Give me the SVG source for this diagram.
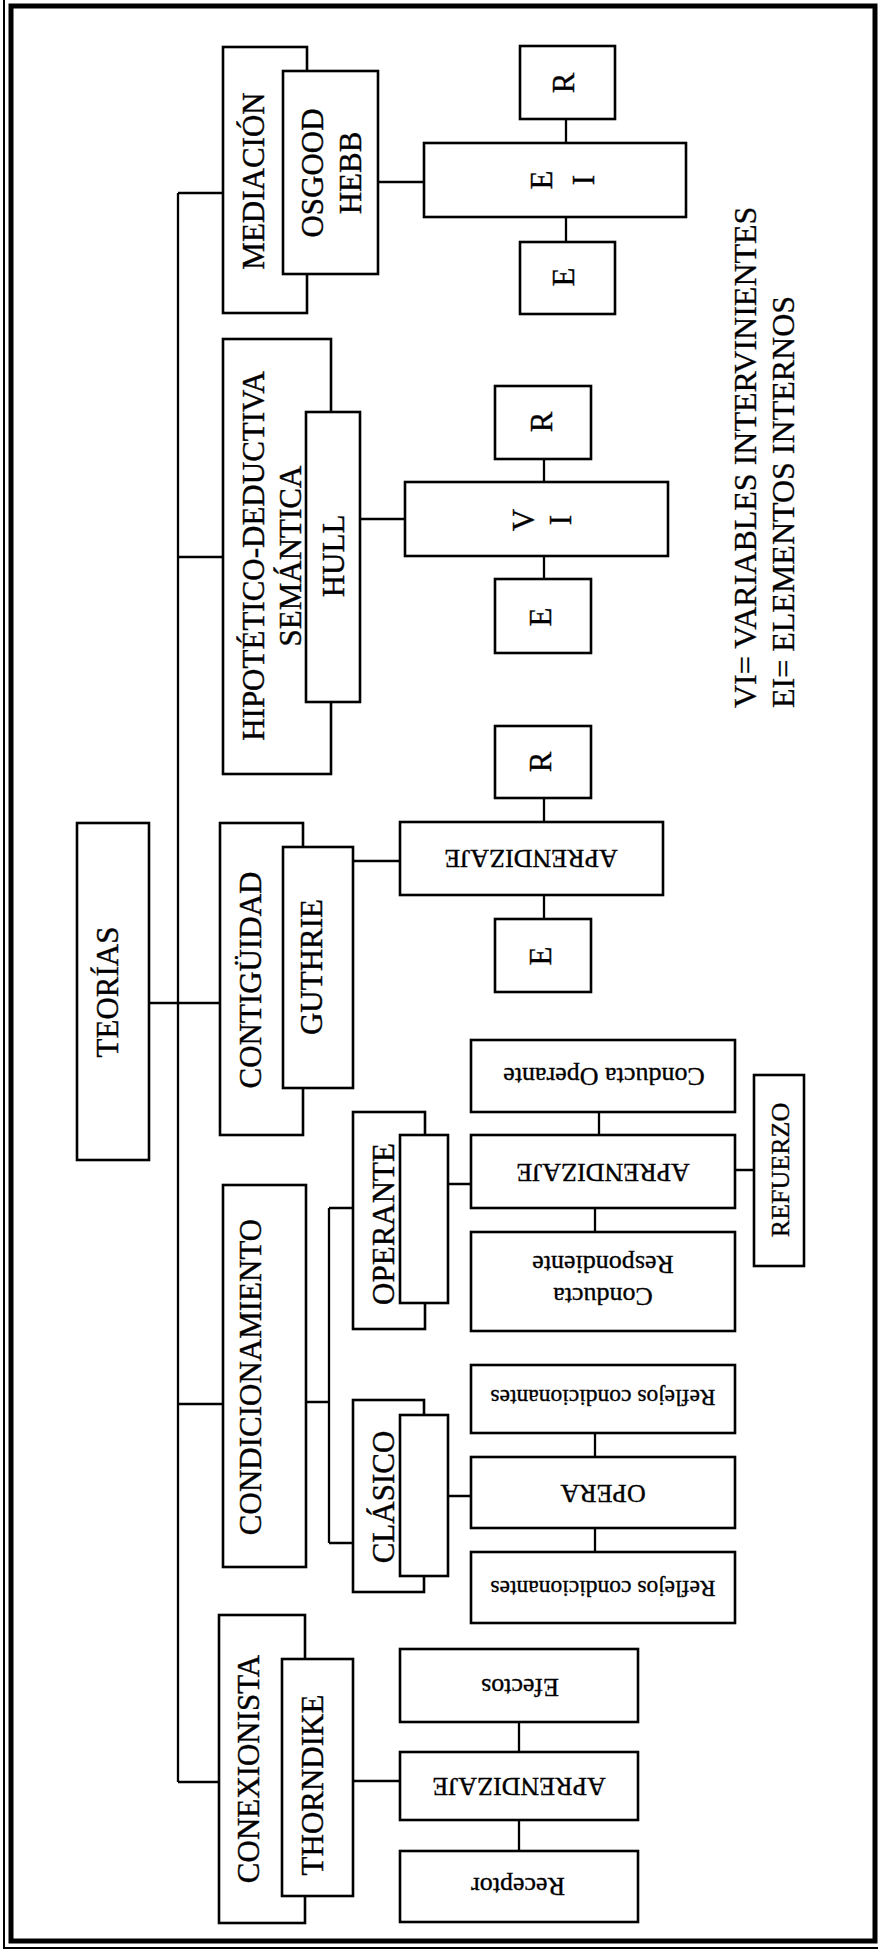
<svg xmlns="http://www.w3.org/2000/svg" width="878" height="1955" viewBox="0 0 878 1955">
<style>
.b{fill:#fff;stroke:#000;stroke-width:2.6}
.c{fill:none;stroke:#000;stroke-width:2.3}
.t{font-family:"Liberation Serif","Times New Roman",serif;font-size:31px;fill:#000;stroke:#000;stroke-width:0.4;text-anchor:middle;dominant-baseline:central}
.s{font-family:"Liberation Serif","Times New Roman",serif;font-size:26px;fill:#000;stroke:#000;stroke-width:0.35;text-anchor:middle;dominant-baseline:central}
.r{font-family:"Liberation Serif","Times New Roman",serif;font-size:23.5px;fill:#000;stroke:#000;stroke-width:0.35;text-anchor:middle;dominant-baseline:central}
.a{font-family:"Liberation Serif","Times New Roman",serif;font-size:26px;fill:#000;stroke:#000;stroke-width:0.35;text-anchor:middle;dominant-baseline:central}
.l{font-family:"Liberation Serif","Times New Roman",serif;font-size:32px;fill:#000;stroke:#000;stroke-width:0.3;text-anchor:start;dominant-baseline:central}
</style>
<rect x="0" y="0" width="878" height="1955" fill="#fff"/>
<g id="frame">
<rect x="11" y="6" width="864" height="1935" fill="none" stroke="#000" stroke-width="5"/>
<polyline points="4,0 4,1948 878,1948" fill="none" stroke="#000" stroke-width="2"/>
</g>
<g id="connectors">
<path class="c" d="M178,193 V1782 M178,193 H223 M178,557 H223 M149,1003 H220 M178,1404 H223 M178,1782 H219"/>
<path class="c" d="M378,182 H424 M566,119 V143 M566,217 V242"/>
<path class="c" d="M360,519 H405 M544,459 V482 M544,556 V579"/>
<path class="c" d="M353,861 H400 M544,798 V822 M544,895 V919"/>
<path class="c" d="M306,1402 H329 M329,1208 V1543 M329,1208 H353 M329,1543 H353"/>
<path class="c" d="M448,1184 H471 M599,1112 V1135 M595,1208 V1232 M735,1170 H754"/>
<path class="c" d="M448,1496 H471 M595,1433 V1457 M595,1528 V1552"/>
<path class="c" d="M353,1781 H400 M519,1722 V1752 M519,1820 V1851"/>
</g>
<g id="teorias"><rect class="b" x="77" y="823" width="72" height="337"/><text class="t" transform="translate(107,992) rotate(-90)">TEORÍAS</text></g>
<g id="mediacion"><rect class="b" x="223" y="47" width="84" height="266"/><text class="t" transform="translate(253,181) rotate(-90)">MEDIACIÓN</text></g>
<g id="osgood"><rect class="b" x="283" y="71" width="95" height="203"/><text class="t" transform="translate(312,173) rotate(-90)">OSGOOD</text><text class="t" transform="translate(350,173) rotate(-90)">HEBB</text></g>
<g id="ei"><rect class="b" x="424" y="143" width="262" height="74"/><text class="t" transform="translate(541,180) rotate(-90)">E</text><text class="t" transform="translate(583,180) rotate(-90)">I</text></g>
<g id="r1"><rect class="b" x="520" y="46" width="95" height="73"/><text class="t" transform="translate(563,83) rotate(-90)">R</text></g>
<g id="e1"><rect class="b" x="520" y="242" width="95" height="72"/><text class="t" transform="translate(563,277) rotate(-90)">E</text></g>
<g id="hipotetico"><rect class="b" x="223" y="339" width="108" height="435"/><text class="t" transform="translate(253,556) rotate(-90)">HIPOTÉTICO-DEDUCTIVA</text><text class="t" transform="translate(290,556) rotate(-90)">SEMÁNTICA</text></g>
<g id="hull"><rect class="b" x="306" y="412" width="54" height="290"/><text class="t" transform="translate(333,556) rotate(-90)">HULL</text></g>
<g id="vi"><rect class="b" x="405" y="482" width="263" height="74"/><text class="t" transform="translate(523,520) rotate(-90)">V</text><text class="t" transform="translate(560,520) rotate(-90)">I</text></g>
<g id="r2"><rect class="b" x="495" y="386" width="96" height="73"/><text class="t" transform="translate(541,422) rotate(-90)">R</text></g>
<g id="e2"><rect class="b" x="495" y="579" width="96" height="74"/><text class="t" transform="translate(540,617) rotate(-90)">E</text></g>
<g id="legend"><text class="l" transform="translate(745,708) rotate(-90)">VI= VARIABLES INTERVINIENTES</text><text class="l" transform="translate(783,708) rotate(-90)">EI= ELEMENTOS INTERNOS</text></g>
<g id="contiguidad"><rect class="b" x="220" y="823" width="83" height="312"/><text class="t" transform="translate(250,980) rotate(-90)">CONTIGÜIDAD</text></g>
<g id="guthrie"><rect class="b" x="283" y="847" width="70" height="241"/><text class="t" transform="translate(311,967) rotate(-90)">GUTHRIE</text></g>
<g id="aprend1"><rect class="b" x="400" y="822" width="263" height="73"/><text class="a" transform="translate(531,858) rotate(180)">APRENDIZAJE</text></g>
<g id="r3"><rect class="b" x="495" y="726" width="96" height="72"/><text class="t" transform="translate(540,762) rotate(-90)">R</text></g>
<g id="e3"><rect class="b" x="495" y="919" width="96" height="73"/><text class="t" transform="translate(540,956) rotate(-90)">E</text></g>
<g id="condicionamiento"><rect class="b" x="223" y="1185" width="83" height="382"/><text class="t" transform="translate(250,1377) rotate(-90)">CONDICIONAMIENTO</text></g>
<g id="operante"><rect class="b" x="353" y="1112" width="72" height="217"/><text class="t" transform="translate(383,1224) rotate(-90)">OPERANTE</text><rect class="b" x="400" y="1135" width="48" height="168"/></g>
<g id="conductaop"><rect class="b" x="471" y="1040" width="264" height="72"/><text class="s" transform="translate(604,1076) rotate(180)">Conducta Operante</text></g>
<g id="aprend2"><rect class="b" x="471" y="1135" width="264" height="73"/><text class="a" transform="translate(603,1172) rotate(180)">APRENDIZAJE</text></g>
<g id="conductaresp"><rect class="b" x="471" y="1232" width="264" height="99"/><text class="s" transform="translate(603,1296) rotate(180)">Conducta</text><text class="s" transform="translate(603,1264) rotate(180)">Respondiente</text></g>
<g id="refuerzo"><rect class="b" x="754" y="1075" width="50" height="191"/><text class="a" transform="translate(780,1170) rotate(-90)">REFUERZO</text></g>
<g id="reflejos1"><rect class="b" x="471" y="1365" width="264" height="68"/><text class="r" transform="translate(603,1398) rotate(180)">Reflejos condicionantes</text></g>
<g id="clasico"><rect class="b" x="353" y="1400" width="71" height="192"/><text class="t" transform="translate(383,1497) rotate(-90)">CLÁSICO</text><rect class="b" x="400" y="1415" width="48" height="161"/></g>
<g id="opera"><rect class="b" x="471" y="1457" width="264" height="71"/><text class="a" transform="translate(603,1493) rotate(180)">OPERA</text></g>
<g id="reflejos2"><rect class="b" x="471" y="1552" width="264" height="71"/><text class="r" transform="translate(603,1589) rotate(180)">Reflejos condicionantes</text></g>
<g id="conexionista"><rect class="b" x="219" y="1615" width="86" height="308"/><text class="t" transform="translate(248,1769) rotate(-90)">CONEXIONISTA</text></g>
<g id="thorndike"><rect class="b" x="282" y="1659" width="71" height="237"/><text class="t" transform="translate(312,1785) rotate(-90)">THORNDIKE</text></g>
<g id="efectos"><rect class="b" x="400" y="1649" width="238" height="73"/><text class="s" transform="translate(520,1687) rotate(180)">Efectos</text></g>
<g id="aprend3"><rect class="b" x="400" y="1752" width="238" height="68"/><text class="a" transform="translate(519,1786) rotate(180)">APRENDIZAJE</text></g>
<g id="receptor"><rect class="b" x="400" y="1851" width="238" height="71"/><text class="s" transform="translate(518,1886) rotate(180)">Receptor</text></g>
</svg>
